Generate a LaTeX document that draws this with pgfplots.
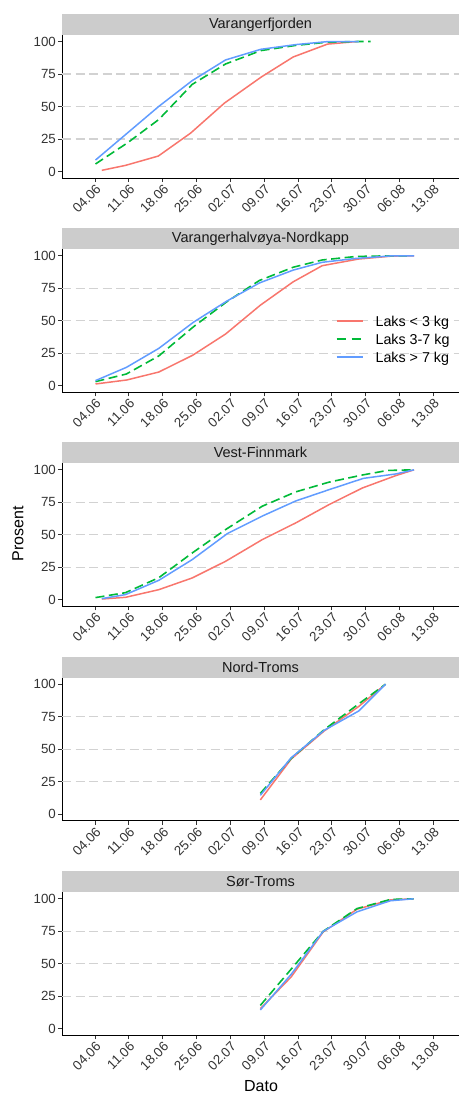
\documentclass[border=0pt]{standalone}
\usepackage{pgfplots}
\pgfplotsset{compat=1.18}
\usepackage{fontspec}
\setmainfont{Liberation Sans}
\definecolor{cred}{HTML}{F8766D}
\definecolor{cgreen}{HTML}{00BA38}
\definecolor{cblue}{HTML}{619CFF}
\definecolor{stripgray}{HTML}{CCCCCC}
\definecolor{gridgray}{HTML}{D2D2D2}
\definecolor{tickgray}{HTML}{333333}
\tikzset{
 sred/.style={cred, line width=1.5pt},
 sgreen/.style={cgreen, line width=1.6pt, dash pattern=on 9pt off 4.5pt},
 sblue/.style={cblue, line width=1.5pt},
}
\pgfplotsset{
 panel/.style={
  scale only axis, width=397pt, height=143pt,
  anchor=north west,
  xmin=-6.83, xmax=75.3, ymin=-5, ymax=105,
  axis x line*=bottom, axis y line*=left,
  axis line style={line width=0.9pt, black},
  xtick={0,7,...,70},
  xticklabels={04.06,11.06,18.06,25.06,02.07,09.07,16.07,23.07,30.07,06.08,13.08},
  ytick={0,25,50,75,100},
  tick align=outside, major tick length=4pt,
  tick style={line width=0.8pt, tickgray},
  ticklabel style={font=\fontsize{13.3}{15}\selectfont, text=tickgray},
  /pgf/number format/assume math mode=true,
  xticklabel style={rotate=45, anchor=north east, inner sep=1pt},
  yticklabel style={inner sep=2pt},
  extra y ticks={25,50,75},
  extra y tick labels={},
  extra y tick style={grid=major, major tick length=0pt, major grid style={gridgray, line width=1.1pt, dash pattern=on 9pt off 4.5pt}},
  title style={at={(0.5,1)}, anchor=south, yshift=-6pt, fill=stripgray, minimum width=397pt, minimum height=21pt, inner sep=0pt, text={black!90}, font=\fontsize{14.5}{16}\selectfont},
 },
}
\begin{document}
\begin{tikzpicture}
\path (0pt,0pt) rectangle (459pt,-1095pt);
% Panel 1
\begin{axis}[panel, at={(62pt,-35pt)}, title={Varangerfjorden}]
\addplot[sred] coordinates {(1.4,0.9) (6.3,4.7) (13.1,11.9) (19.8,29.6) (26.8,52.7) (34.4,72.7) (41.0,88.1) (48.1,98.0) (54.3,100)};
\addplot[sgreen] coordinates {(0.1,5.8) (6.7,22) (13.2,40) (20.1,67) (27.0,82.7) (34.3,93) (41.5,97) (48.1,99.5) (54.6,100) (57,100)};
\addplot[sblue] coordinates {(0.1,8.8) (6.7,29.6) (13.2,50.1) (20.1,69.9) (27.0,85.8) (34.3,94.0) (41.5,97.6) (48.1,99.9) (54.6,100)};
\end{axis}
% Panel 2
\begin{axis}[panel, at={(62pt,-249.3pt)}, title={Varangerhalvøya-Nordkapp}]
\addplot[sred] coordinates {(0.1,1.4) (6.6,4.5) (13.2,10.6) (20.2,23.5) (27,39.8) (34.2,62) (41,80) (47,92.4) (54.5,97.5) (61.5,99.8) (66,100)};
\addplot[sgreen] coordinates {(0.1,3.2) (6.5,9.1) (13.2,23) (20.4,45.5) (27.2,64.5) (34,81) (41,91.2) (47,96.8) (54,99.5) (61.5,100) (64.5,100)};
\addplot[sblue] coordinates {(0.1,4) (6.5,14.2) (13.2,28.8) (20.4,49) (27.2,65) (34,79.1) (41,89) (47,95) (54,98) (61.5,100) (66,100)};
% legend keys
\addplot[draw=cred, line width=1.8pt] coordinates {(50.0,49.6) (55.5,49.6)};
\addplot[draw=cgreen, line width=1.8pt, dash pattern=on 9pt off 6pt] coordinates {(50.0,35.8) (55.5,35.8)};
\addplot[draw=cblue, line width=1.8pt] coordinates {(50.0,22.0) (55.5,22.0)};
\node[anchor=base west, inner sep=0pt, font=\fontsize{14.3}{16}\selectfont] at (axis cs:58.0,45.4) {Laks < 3 kg};
\node[anchor=base west, inner sep=0pt, font=\fontsize{14.3}{16}\selectfont] at (axis cs:58.0,31.9) {Laks 3-7 kg};
\node[anchor=base west, inner sep=0pt, font=\fontsize{14.3}{16}\selectfont] at (axis cs:58.0,18.1) {Laks > 7 kg};
\end{axis}
% Panel 3
\begin{axis}[panel, at={(62pt,-463.3pt)}, title={Vest-Finnmark}]
\addplot[sred] coordinates {(1.4,0.6) (6.3,1.9) (13.2,7.8) (20.1,16.8) (27,29.6) (34.6,46.3) (41.5,59.1) (48.4,73.2) (55.3,86) (62.2,95.5) (66,100)};
\addplot[sgreen] coordinates {(0.1,1.7) (6.3,5.5) (13.2,17) (20.1,36) (27,54) (34.6,72) (41.5,83) (48.4,90.5) (55.3,96) (60.5,99.5) (66,100)};
\addplot[sblue] coordinates {(1.4,0.9) (6.3,4) (13.2,15) (20.1,30.9) (27.4,51) (34.6,64.4) (41.5,76) (48.4,84.7) (55.5,93.4) (62.2,96.8) (66,100)};
\end{axis}
% Panel 4
\begin{axis}[panel, at={(62pt,-677.7pt)}, title={Nord-Troms}]
\addplot[sred] coordinates {(34.2,11) (40.6,42.5) (47.4,64) (54.6,83) (60.1,100)};
\addplot[sgreen] coordinates {(34.2,16) (40.6,43) (47.4,65) (54.6,85) (60.1,100)};
\addplot[sblue] coordinates {(34.2,14.5) (40.6,43.5) (47.4,64.5) (54.6,79.5) (60.1,100)};
\end{axis}
% Panel 5
\begin{axis}[panel, at={(62pt,-892.3pt)}, title={Sør-Troms}]
\addplot[sred] coordinates {(34.2,15.5) (40.6,40) (47.2,74.5) (54.2,92) (61.1,99.2) (65.9,100)};
\addplot[sgreen] coordinates {(34.2,18) (40.6,46) (47.2,75) (54.2,92.5) (61.1,99.5) (65.9,100)};
\addplot[sblue] coordinates {(34.2,14.5) (40.6,42) (47.2,75) (54.2,90) (61.1,98.5) (65.9,100)};
\end{axis}
\node[rotate=90, font=\fontsize{16}{18}\selectfont] at (18pt,-533.5pt) {Prosent};
\node[font=\fontsize{16}{18}\selectfont] at (261pt,-1086pt) {Dato};
\end{tikzpicture}
\end{document}
